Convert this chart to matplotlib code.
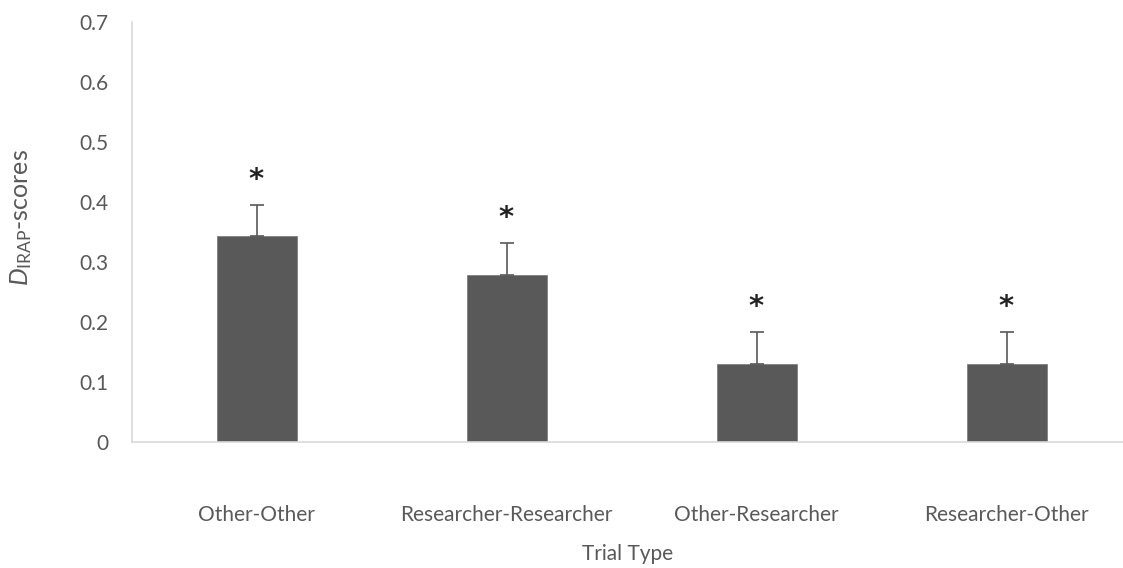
import numpy as np
import matplotlib
matplotlib.use("Agg")
import matplotlib.pyplot as plt

plt.rcParams['font.family'] = ['Lato', 'DejaVu Sans']
plt.rcParams['mathtext.fontset'] = 'custom'
plt.rcParams['mathtext.rm'] = 'Lato'
plt.rcParams['mathtext.it'] = 'Lato:italic'

# mean D-scores and standard errors per trial type
trial_types = ["Other-Other", "Researcher-Researcher", "Other-Researcher", "Researcher-Other"]
d_scores = [0.343, 0.279, 0.13, 0.13]
std_errors = [0.053, 0.053, 0.053, 0.053]
significant = [True, True, True, True]

grey = "#595959"

fig = plt.figure(figsize=(11.23, 5.68), dpi=100)
ax = fig.add_axes([0.1171, 0.2218, 0.8829, 0.7387])

x = np.arange(len(trial_types))
ax.bar(x, d_scores, width=0.32, color=grey, edgecolor="#7f7f7f", linewidth=0.6, zorder=2)
ax.errorbar(x, d_scores, yerr=[np.zeros(len(x)), std_errors], fmt="none",
            ecolor=grey, elinewidth=1.2, capsize=4.7, capthick=1.2, zorder=3)

# significance markers above each error bar
for xi, m, e, sig in zip(x, d_scores, std_errors, significant):
    if sig:
        ax.annotate("*", xy=(xi, m + e), xytext=(0, 8), textcoords="offset points",
                    ha="center", va="bottom", fontsize=21, fontweight="bold",
                    color="#222222", family="DejaVu Sans")

ax.set_xlim(-0.5, 3.466)
ax.set_ylim(0, 0.7)
ax.set_yticks(np.arange(0, 0.71, 0.1))
ax.set_yticklabels(["0"] + [f"{v:.1f}" for v in np.arange(0.1, 0.71, 0.1)])
ax.set_xticks(x)
ax.set_xticklabels(trial_types)

ax.tick_params(axis="both", length=0, colors=grey, labelsize=15)
ax.tick_params(axis="y", pad=16.5)
ax.tick_params(axis="x", pad=45)

for side in ["top", "right"]:
    ax.spines[side].set_visible(False)
for side in ["left", "bottom"]:
    ax.spines[side].set_color("#d9d9d9")
    ax.spines[side].set_linewidth(1.2)

ax.set_xlabel("Trial Type", color=grey, fontsize=15, labelpad=14)
ax.set_ylabel(r"$D_{\mathrm{IRAP}}$-scores", color=grey, fontsize=18)
ax.yaxis.set_label_coords(-0.098, 0.534)

fig.savefig("out.png", dpi=100)
